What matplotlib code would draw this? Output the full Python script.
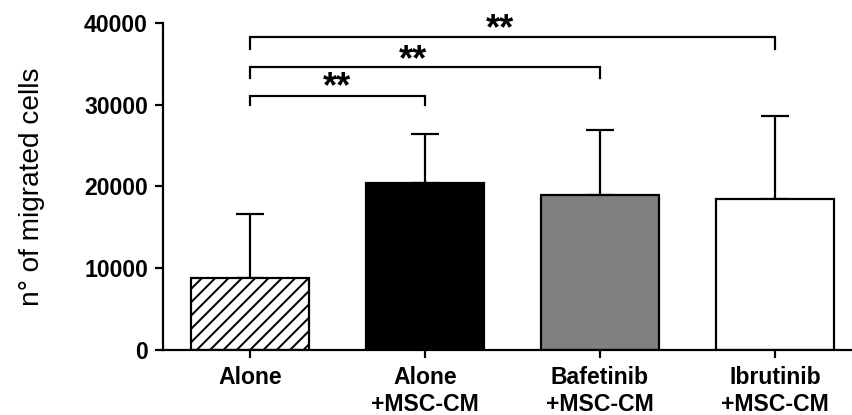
import matplotlib
matplotlib.use('Agg')
import matplotlib.pyplot as plt

# values
groups = ['Alone', 'Alone\n+MSC-CM', 'Bafetinib\n+MSC-CM', 'Ibrutinib\n+MSC-CM']
means = [8750, 20350, 19000, 18500]
errs = [7850, 6000, 7900, 10150]
colors = ['white', 'black', '#808080', 'white']
hatches = ['////', '', '', '']

# significance brackets: (from group, to group, top y, tick bottom y)
brk_from = [0, 0, 0]
brk_to = [1, 2, 3]
brk_top = [31100, 34550, 38300]
brk_low = [30000, 33250, 36800]
star_x = [0.5, 0.93, 1.43]
star_y = [32100, 35400, 39100]
star_txt = ['**', '**', '**']

DPI = 160
def px(v):
    # pixel size -> points
    return v * 72.0 / DPI

plt.rcParams['font.family'] = ['Liberation Sans', 'DejaVu Sans']
plt.rcParams['hatch.linewidth'] = px(2)
plt.rcParams['hatch.color'] = 'black'

fig = plt.figure(figsize=(852 / DPI, 415 / DPI), dpi=DPI)
ax = fig.add_axes([163 / 852, 1 - 350 / 415, (852 - 163) / 852, (350 - 22.7) / 415])

x = list(range(len(groups)))
ax.bar(x, means, width=0.67, color=colors, edgecolor='black', linewidth=px(2.2),
       hatch=hatches, zorder=2)
ax.errorbar(x, means, yerr=[[0] * len(errs), errs], fmt='none', ecolor='black',
            elinewidth=px(2.2), capsize=px(14), capthick=px(2.2), zorder=1)

for i in range(len(brk_to)):
    x1 = brk_from[i]
    x2 = brk_to[i]
    ax.plot([x1, x1, x2, x2], [brk_low[i], brk_top[i], brk_top[i], brk_low[i]],
            color='black', lw=px(2.2), clip_on=False, solid_joinstyle='miter')
    ax.text(star_x[i], star_y[i], star_txt[i], ha='center', va='center',
            fontsize=px(36), fontweight='bold', clip_on=False)

ax.set_xlim(-0.497, 3.44)
ax.set_ylim(0, 40000)
ax.set_yticks([0, 10000, 20000, 30000, 40000])
ax.set_xticks(x)
ax.set_xticklabels(groups, fontsize=px(23), fontweight='bold', linespacing=1.2)
for lab in ax.get_yticklabels():
    lab.set_fontsize(px(23))
    lab.set_fontweight('bold')
ax.tick_params(axis='both', length=px(8), width=px(2.2), direction='out')
ax.tick_params(axis='x', pad=px(8))
ax.tick_params(axis='y', pad=px(7))
ax.set_ylabel('n° of migrated cells', fontsize=px(28), labelpad=px(39))

ax.spines['top'].set_visible(False)
ax.spines['right'].set_visible(False)
ax.spines['left'].set_linewidth(px(2.2))
ax.spines['bottom'].set_linewidth(px(2.2))

fig.savefig('out.png', dpi=DPI)
